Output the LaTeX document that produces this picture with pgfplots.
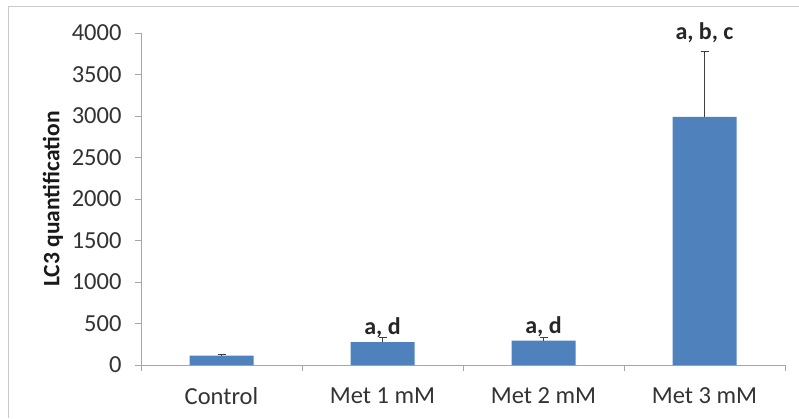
\documentclass[border=0pt]{standalone}
\usepackage{pgfplots}
\pgfplotsset{compat=1.18}
\usepackage{fontspec}
\setmainfont{Carlito}
\definecolor{barblue}{RGB}{79,129,189}
\definecolor{axgray}{RGB}{166,166,166}
\begin{document}
\begin{tikzpicture}[x=1pt,y=1pt]
\path[use as bounding box] (0,0) rectangle (799,418);
\draw[axgray!60, line width=1pt] (8,0) -- (8,411) -- (799,411);
\begin{axis}[
  at={(141pt,53pt)}, anchor=south west,
  scale only axis, width=644pt, height=332pt,
  xmin=-0.5, xmax=3.5, ymin=0, ymax=4000,
  axis x line*=bottom, axis y line*=left,
  axis line style={axgray, line width=1pt},
  xtick={0,1,2,3},
  xticklabels={Control, Met 1 mM, Met 2 mM, Met 3 mM},
  major x tick style={draw=none},
  minor xtick={-0.5,0.5,1.5,2.5,3.5},
  minor x tick style={axgray, line width=1pt},
  minor tick length=6pt,
  ytick={0,500,...,4000},
  y tick style={axgray, line width=1pt},
  major tick length=6pt,
  tick align=outside,
  scaled y ticks=false,
  /pgf/number format/assume math mode=true,
  yticklabel={\pgfmathprintnumber[fixed,1000 sep={}]{\tick}},
  ticklabel style={font=\fontsize{24.5}{28}\selectfont, text=black!80},
  xticklabel style={yshift=-13pt},
  yticklabel style={xshift=-10pt},
  ylabel={\textbf{LC3 quantification}},
  every axis y label/.style={at={(axis description cs:-0.1366,0.5)}, rotate=90, anchor=center, font=\fontsize{23.5}{28}\selectfont, text=black!90},
  clip=false,
]
\addplot[ybar, bar width=64pt, fill=barblue, draw=none,
  error bars/.cd, y dir=plus, y explicit,
  error bar style={black!75, line width=1.2pt},
  error mark options={rotate=90, mark size=4pt, line width=1.2pt, black!75}]
  coordinates {(0,112) +- (0,18) (1,277) +- (0,52) (2,293) +- (0,40) (3,2990) +- (0,785)};
\node[anchor=base, font=\fontsize{24}{28}\selectfont\bfseries, text=black!85] at (axis cs:1,365) {a, d};
\node[anchor=base, font=\fontsize{24}{28}\selectfont\bfseries, text=black!85] at (axis cs:2,380) {a, d};
\node[anchor=base, font=\fontsize{24}{28}\selectfont\bfseries, text=black!85] at (axis cs:3,3924) {a, b, c};
\end{axis}
\end{tikzpicture}
\end{document}
